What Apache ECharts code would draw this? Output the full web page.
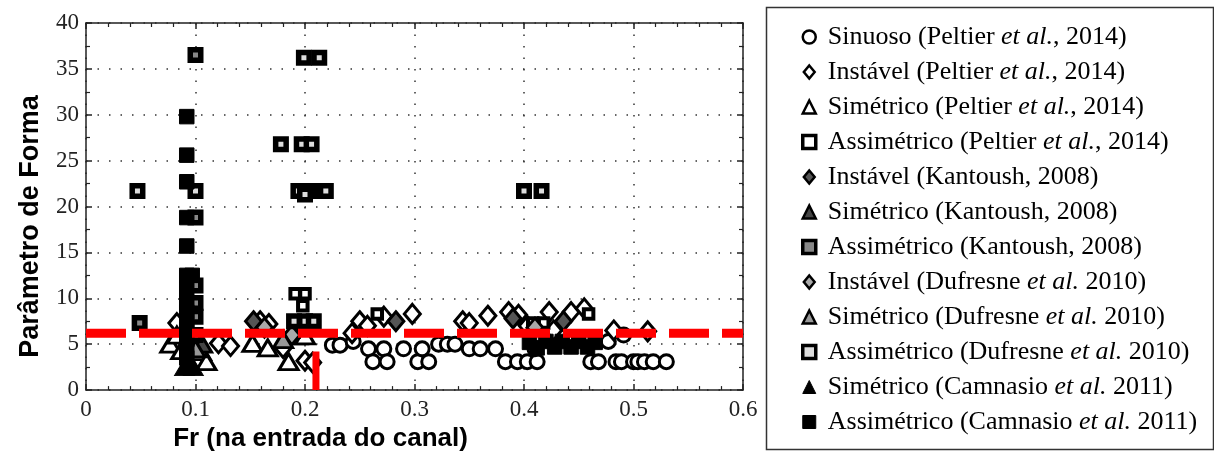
<!DOCTYPE html>
<html><head><meta charset="utf-8">
<script src="https://cdn.jsdelivr.net/npm/echarts@6/dist/echarts.min.js"></script>
<style>html,body{margin:0;padding:0;background:#fff}#c{width:1214px;height:457px}</style>
</head><body><div id="c"></div>
<script>
const xTicks = [0, 0.1, 0.2, 0.3, 0.4, 0.5, 0.6];
const yTicks = [0, 5, 10, 15, 20, 25, 30, 35, 40];
const seriesNames = [
  'Sinuoso (Peltier et al., 2014)',
  'Instável (Peltier et al., 2014)',
  'Simétrico (Peltier et al., 2014)',
  'Assimétrico (Peltier et al., 2014)',
  'Instável (Kantoush, 2008)',
  'Simétrico (Kantoush, 2008)',
  'Assimétrico (Kantoush, 2008)',
  'Instável (Dufresne et al. 2010)',
  'Simétrico (Dufresne et al. 2010)',
  'Assimétrico (Dufresne et al. 2010)',
  'Simétrico (Camnasio et al. 2011)',
  'Assimétrico (Camnasio et al. 2011)'
];
const sinuosoPeltier = [[0.225,4.9],[0.232,4.9],[0.244,5.3],[0.258,4.5],[0.262,3.1],[0.272,4.5],[0.275,3.1],[0.29,4.5],[0.303,3.1],[0.307,4.5],[0.313,3.1],[0.322,5.0],[0.33,5.0],[0.337,5.0],[0.35,4.5],[0.36,4.5],[0.374,4.5],[0.383,3.1],[0.394,3.1],[0.403,3.1],[0.412,3.1],[0.41,4.5],[0.461,3.1],[0.468,3.1],[0.477,5.3],[0.484,3.1],[0.489,3.1],[0.491,6.0],[0.5,3.1],[0.504,3.1],[0.51,3.1],[0.518,3.1],[0.53,3.1]];
const instavelPeltier = [[0.083,7.3],[0.121,5.1],[0.132,4.8],[0.159,7.5],[0.167,7.2],[0.18,4.6],[0.2,3.2],[0.207,3.0],[0.243,6.2],[0.25,7.5],[0.257,7.0],[0.272,8.0],[0.298,8.3],[0.344,7.5],[0.35,7.3],[0.367,8.1],[0.386,8.5],[0.395,8.2],[0.403,7.0],[0.423,8.5],[0.427,6.5],[0.443,8.5],[0.455,8.9],[0.482,6.5],[0.513,6.4]];
const simetricoPeltier = [[0.077,5.0],[0.083,6.0],[0.087,4.3],[0.105,4.2],[0.11,3.1],[0.152,5.1],[0.166,4.6],[0.185,3.1],[0.193,5.9],[0.2,5.9]];
const assimPeltier = [[0.191,10.5],[0.2,10.5],[0.198,9.2],[0.266,8.3],[0.408,7.3],[0.418,7.3],[0.459,8.3],[0.19,6.3]];
const instavelKantoush = [[0.153,7.5],[0.283,7.5],[0.436,7.5],[0.39,7.8]];
const simetricoKantoush = [[0.098,5.8],[0.106,5.0]];
const assimKantoush = [[0.1,36.5],[0.049,7.3],[0.1,18.8],[0.1,11.4],[0.1,9.5],[0.1,8.0],[0.1,6.0]];
const instavelDufresne = [[0.163,6.8],[0.188,6.0],[0.41,6.8]];
const simetricoDufresne = [[0.1,4.5],[0.18,5.5]];
const assimDufresne = [[0.047,21.7],[0.1,21.7],[0.199,36.2],[0.213,36.2],[0.178,26.8],[0.197,26.8],[0.206,26.8],[0.194,21.7],[0.205,21.7],[0.219,21.7],[0.2,21.3],[0.4,21.7],[0.416,21.7],[0.19,7.5],[0.2,7.5],[0.208,7.5]];
const simetricoCamnasio = [[0.09,2.5],[0.098,2.5],[0.094,3.2]];
const assimCamnasio = [[0.092,29.8],[0.092,25.6],[0.092,22.7],[0.092,18.8],[0.092,15.7],[0.092,12.5],[0.092,11.0],[0.092,9.5],[0.092,8.5],[0.092,7.5],[0.092,6.5],[0.092,5.5],[0.092,4.5],[0.092,3.5],[0.097,12.5],[0.405,5.2],[0.412,4.6],[0.42,5.3],[0.428,4.7],[0.435,5.3],[0.443,4.7],[0.45,5.3],[0.458,4.7],[0.465,5.2]];
const limiteFr = 0.21;
const limiteForma = 6.2;
const redDashed = [[0, limiteForma], [0.6, limiteForma]];
const redVertical = [[limiteFr, 0], [limiteFr, 4.2]];

const diamond = 'path://M5,0 L10,6 L5,12 L0,6 Z';
const tri = 'triangle';
const defs = [
  {data: sinuosoPeltier, symbol: 'circle', size: 14, fill: '#fff', bw: 3},
  {data: instavelPeltier, symbol: diamond, size: [16, 19], fill: '#fff', bw: 3},
  {data: simetricoPeltier, symbol: tri, size: [19, 16], fill: '#fff', bw: 3},
  {data: assimPeltier, symbol: 'rect', size: 9.5, fill: '#fff', bw: 4},
  {data: instavelKantoush, symbol: diamond, size: [16, 19], fill: '#555', bw: 3},
  {data: simetricoKantoush, symbol: tri, size: [19, 16], fill: '#444', bw: 3},
  {data: assimKantoush, symbol: 'rect', size: 10.5, fill: '#888', bw: 5.5},
  {data: instavelDufresne, symbol: diamond, size: [16, 19], fill: '#aaa', bw: 3},
  {data: simetricoDufresne, symbol: tri, size: [19, 16], fill: '#999', bw: 3},
  {data: assimDufresne, symbol: 'rect', size: 10.5, fill: '#ddd', bw: 5.5},
  {data: simetricoCamnasio, symbol: tri, size: [20, 17], fill: '#000', bw: 1},
  {data: assimCamnasio, symbol: 'rect', size: 14.5, fill: '#000', bw: 1}
];
const legendIconBorders = [2.5, 2.5, 2.5, 3.5, 2.5, 2.5, 3.5, 2.5, 2.5, 3.5, 1, 1];

const series = defs.map((d, i) => ({
  name: seriesNames[i], type: 'scatter', data: d.data, symbol: d.symbol, symbolSize: d.size,
  itemStyle: {color: d.fill, borderColor: '#000', borderWidth: d.bw, opacity: 1},
  emphasis: {disabled: true}, z: 3
}));
series.push({
  name: 'limite', type: 'line', data: redDashed, showSymbol: false, silent: true, z: 10,
  lineStyle: {color: '#ff0000', width: 9, type: [40, 13], cap: 'butt'}
});
series.push({
  name: 'limiteV', type: 'line', data: redVertical, showSymbol: false, silent: true, z: 10,
  lineStyle: {color: '#ff0000', width: 7, cap: 'butt'}
});

const serif = 'Liberation Serif';
const tickFont = {fontFamily: serif, fontSize: 23, color: '#222'};
const axisBase = {
  axisLine: {show: true, onZero: false, lineStyle: {color: '#222', width: 1.5}},
  axisTick: {show: true, inside: true, length: 6, lineStyle: {color: '#222', width: 1.5}},
  minorTick: {show: true, length: 4, lineStyle: {color: '#222', width: 1.2}}
};

const chart = echarts.init(document.getElementById('c'), null, {renderer: 'canvas'});
chart.setOption({
  animation: false,
  backgroundColor: '#fff',
  grid: {left: 86, right: 471, top: 23, bottom: 65, containLabel: false},
  xAxis: [
    Object.assign({}, axisBase, {
      type: 'value', min: xTicks[0], max: xTicks[xTicks.length - 1], interval: 0.1, position: 'bottom',
      minorTick: Object.assign({}, axisBase.minorTick, {splitNumber: 5}),
      axisLabel: Object.assign({margin: 8, formatter: v => String(+v.toFixed(1))}, tickFont),
      splitLine: {show: true, lineStyle: {color: '#333', width: 1.5, type: [1.5, 10]}},
      name: 'Fr (na entrada do canal)', nameLocation: 'middle', nameGap: 34,
      nameTextStyle: {fontFamily: 'Liberation Sans', fontWeight: 'bold', fontSize: 26, color: '#000', padding: [0, 188, 0, 0]}
    }),
    Object.assign({}, axisBase, {
      type: 'value', min: 0, max: 0.6, interval: 0.1, position: 'top',
      minorTick: Object.assign({}, axisBase.minorTick, {splitNumber: 5}),
      axisLabel: {show: false}, splitLine: {show: false}
    })
  ],
  yAxis: [
    Object.assign({}, axisBase, {
      type: 'value', min: yTicks[0], max: yTicks[yTicks.length - 1], interval: 5, position: 'left',
      minorTick: Object.assign({}, axisBase.minorTick, {splitNumber: 2}),
      axisLabel: Object.assign({margin: 7}, tickFont),
      splitLine: {show: true, lineStyle: {color: '#333', width: 1.5, type: [1.5, 10]}},
      name: 'Parâmetro de Forma', nameLocation: 'middle', nameGap: 42, nameRotate: 90,
      nameTextStyle: {fontFamily: 'Liberation Sans', fontWeight: 'bold', fontSize: 27, color: '#000', padding: [0, 40, 0, 0]}
    }),
    Object.assign({}, axisBase, {
      type: 'value', min: 0, max: 40, interval: 5, position: 'right',
      minorTick: Object.assign({}, axisBase.minorTick, {splitNumber: 2}),
      axisLabel: {show: false}, splitLine: {show: false}
    })
  ],
  legend: {
    orient: 'vertical', left: 796, top: 19, itemWidth: 13, itemHeight: 13, itemGap: 9,
    selectedMode: false,
    data: seriesNames.map((n, i) => ({name: n, itemStyle: {borderWidth: legendIconBorders[i]}})),
    formatter: function (name) {
      const k = name.indexOf('et al.');
      if (k < 0) return '{n|' + name + '}';
      return '{n|' + name.slice(0, k) + '}{i|et al.}{n|' + name.slice(k + 6) + '}';
    },
    textStyle: {
      fontFamily: serif, fontSize: 26, color: '#000', lineHeight: 26, padding: [0, 0, 0, 7],
      rich: {
        n: {fontFamily: serif, fontSize: 26, color: '#000', lineHeight: 26},
        i: {fontFamily: serif, fontSize: 26, color: '#000', lineHeight: 26, fontStyle: 'italic'}
      }
    }
  },
  graphic: [{
    type: 'rect', left: 764, top: 5, z: -1,
    shape: {width: 447, height: 442},
    style: {fill: 'none', stroke: '#333', lineWidth: 1.5}
  }],
  series: series
});
</script></body></html>
